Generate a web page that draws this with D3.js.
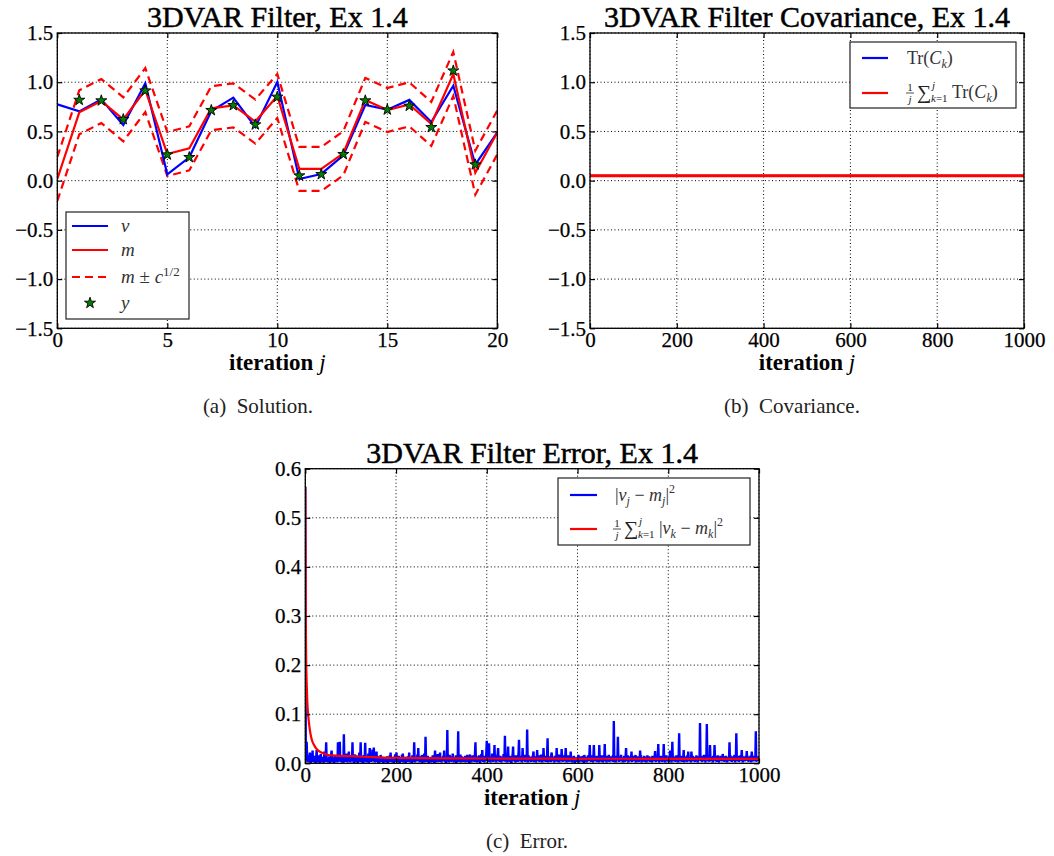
<!DOCTYPE html>
<html><head><meta charset="utf-8">
<script src="https://cdn.jsdelivr.net/npm/d3@7"></script>
<style>
body{margin:0;background:#fff}
text{font-family:"Liberation Serif","Times New Roman",serif}
</style>
</head><body>
<svg id="c" width="1054" height="856"></svg>
<script>
// ---------------- DATA ----------------
// (a) Solution
const solIter = [0,1,2,3,4,5,6,7,8,9,10,11,12,13,14,15,16,17,18,19,20];
const truthV  = [0.775,0.704,0.826,0.566,0.989,0.064,0.237,0.708,0.843,0.545,1.002,0.017,0.068,0.257,0.769,0.721,0.820,0.596,0.965,0.163,0.491];
const meanM   = [0.017,0.694,0.809,0.623,0.921,0.271,0.328,0.735,0.765,0.600,0.860,0.119,0.119,0.278,0.820,0.718,0.775,0.576,1.084,0.081,0.490];
const varC    = [0.05,0.05,0.05,0.05,0.05,0.05,0.05,0.05,0.05,0.05,0.05,0.05,0.05,0.05,0.05,0.05,0.05,0.05,0.05,0.05,0.05];
const obsIter = [1,2,3,4,5,6,7,8,9,10,11,12,13,14,15,16,17,18,19];
const obsY    = [0.819,0.813,0.623,0.914,0.264,0.237,0.715,0.765,0.569,0.850,0.051,0.064,0.268,0.813,0.721,0.759,0.542,1.117,0.163];
// (b) Covariance
const covIter  = [0,1000];
const covTrace = [0.05,0.05];
const covAvg   = [0.05,0.05];
// (c) Error, |v_j - m_j|^2 in units of 1e-3, j = 0..999
const errSqMilli = [
563,6,14,44,9,3,17,2,11,5,22,7,1,13,4,9,26,3,12,6,2,15,8,1,10,
27,4,9,2,16,6,11,1,7,19,3,8,13,2,5,10,1,24,6,3,12,43,8,4,7,
2,11,5,14,1,9,3,18,26,6,2,12,4,8,1,15,7,3,10,5,13,2,43,9,4,
6,44,3,12,8,2,17,5,11,1,59,7,14,3,9,4,20,6,2,11,8,24,5,13,2,
9,4,16,7,43,3,10,1,12,6,18,2,8,14,4,7,1,11,5,22,3,9,43,6,2,
13,5,8,1,17,4,11,42,7,3,15,2,9,6,20,1,12,31,5,8,3,14,6,28,4,
10,32,7,2,12,5,9,24,3,15,6,1,11,4,8,2,17,7,3,10,5,13,1,8,6,
3,12,7,2,9,14,5,1,11,6,3,16,8,22,4,10,2,7,13,5,1,9,6,18,3,
8,22,4,11,2,7,15,5,1,12,6,9,3,17,8,20,2,10,4,6,13,1,8,5,11,
3,14,6,9,22,2,7,12,4,10,1,16,5,8,3,43,9,2,13,6,11,4,18,7,31,
5,10,2,14,6,9,3,17,1,8,12,4,20,7,2,54,11,5,9,3,15,6,1,12,8,
4,10,2,13,7,5,16,3,9,1,11,26,6,8,2,14,4,19,7,10,3,12,22,5,8,
2,11,6,9,15,4,26,8,3,12,1,10,7,68,5,13,2,9,17,4,8,11,3,14,6,
20,5,9,2,12,7,4,16,1,10,6,13,65,3,8,11,5,18,2,9,14,4,7,12,3,
10,6,15,2,8,12,4,17,7,3,11,1,9,18,5,13,2,10,6,16,4,8,12,3,20,
43,7,11,2,14,5,9,3,16,8,1,12,6,19,4,27,10,3,13,7,2,15,9,5,22,
46,8,12,3,17,41,6,10,2,14,5,9,20,7,3,13,8,37,4,11,16,2,9,6,18,
31,5,12,3,9,15,7,2,13,6,10,4,19,8,11,56,3,14,6,9,2,17,34,5,12,
7,3,15,9,1,12,6,18,34,4,10,8,13,2,16,5,11,7,3,14,20,48,9,4,12,
6,15,2,10,31,7,13,4,9,17,3,11,5,8,69,12,2,16,6,10,4,13,8,3,14,
9,5,17,24,3,11,7,14,2,10,6,27,8,12,4,16,3,9,13,5,18,7,2,11,6,
31,10,4,15,8,3,12,6,17,51,2,9,14,5,11,7,3,16,22,8,4,13,6,10,2,
15,7,11,4,31,9,3,13,6,18,2,10,8,14,5,29,12,3,9,16,6,11,4,13,31,
7,2,12,9,16,5,10,3,14,8,24,6,11,2,13,4,9,15,7,1,10,6,12,3,8,
5,13,17,8,2,11,6,14,4,9,12,3,15,7,1,17,10,5,13,8,2,11,6,16,4,
9,12,37,5,14,3,10,7,16,2,11,37,8,13,4,9,6,15,3,12,7,10,2,37,8,
14,5,11,3,16,8,2,12,6,10,39,4,13,9,2,15,7,11,5,17,3,10,6,14,8,
4,12,7,16,3,86,10,5,13,2,9,15,6,11,54,8,3,14,7,10,4,17,5,12,9,
2,11,6,15,8,3,13,31,5,10,7,16,2,12,9,4,14,6,11,24,3,10,8,15,5,
12,4,9,17,2,11,7,14,5,10,3,13,8,26,6,16,2,9,12,4,11,7,15,3,10,
6,13,2,9,16,5,11,4,14,8,3,12,7,10,2,15,6,11,9,4,13,25,8,3,12,
5,10,16,39,7,2,13,9,4,15,6,11,3,12,8,39,5,14,2,10,7,16,4,11,6,
9,3,14,8,26,5,12,2,10,44,7,15,4,11,6,13,3,9,16,5,12,8,2,14,61,
7,11,4,15,9,3,12,6,10,27,2,14,8,5,13,10,3,16,6,24,11,4,9,13,7,
2,24,12,6,15,4,10,8,13,3,11,7,16,5,9,2,14,10,6,12,82,4,11,8,15,
3,13,6,10,17,5,9,2,14,11,80,7,12,4,16,8,3,37,10,6,13,5,11,2,15,
9,7,37,12,4,14,8,3,11,16,6,10,2,13,7,15,5,9,12,4,19,11,6,14,3,
10,8,15,5,12,2,9,13,6,11,43,4,16,7,10,3,14,8,12,5,9,17,2,11,6,
61,13,4,10,15,7,3,12,9,16,5,11,27,8,2,14,6,10,13,4,9,15,7,25,11,
5,12,3,14,8,10,6,16,2,24,11,7,13,4,9,15,6,10,65,3,12,8,14,5,9
];
const errAvgIter = [0,1,2,3,4,5,7,10,14,20,25,30,40,50,60,76,100,150,200,300,400,500,600,700,800,900,1000];
const errAvgVal  = [0.563,0.30,0.205,0.165,0.135,0.115,0.092,0.068,0.049,0.036,0.029,0.025,0.020,0.017,0.016,0.015,0.0145,0.0125,0.011,0.0102,0.0098,0.0095,0.0092,0.0093,0.0090,0.0091,0.0090];

const ticksA_x = [0,5,10,15,20];
const ticksAB_y = [-1.5,-1.0,-0.5,0.0,0.5,1.0,1.5];
const ticksBC_x = [0,200,400,600,800,1000];
const ticksC_y = [0.0,0.1,0.2,0.3,0.4,0.5,0.6];

// ---------------- DRAWING ----------------
const svg = d3.select("#c");
const BLUE = "#0000ff", RED = "#ff0000";
let clipId = 0;

function panel(p) {
  const g = svg.append("g");
  const x = d3.scaleLinear().domain(p.xDomain).range([p.left, p.right]);
  const y = d3.scaleLinear().domain(p.yDomain).range([p.bottom, p.top]);
  // grid
  g.append("g").selectAll("line").data(p.xTicks).join("line")
    .attr("x1", d => x(d)).attr("x2", d => x(d)).attr("y1", p.top).attr("y2", p.bottom)
    .attr("stroke", "#000").attr("stroke-width", 1).attr("stroke-dasharray", "1,2.5");
  g.append("g").selectAll("line").data(p.yTicks).join("line")
    .attr("y1", d => y(d)).attr("y2", d => y(d)).attr("x1", p.left).attr("x2", p.right)
    .attr("stroke", "#000").attr("stroke-width", 1).attr("stroke-dasharray", "1,2.5");
  // clip
  const id = "clip" + (clipId++);
  svg.append("clipPath").attr("id", id).append("rect")
    .attr("x", p.left).attr("y", p.top).attr("width", p.right - p.left).attr("height", p.bottom - p.top);
  const dg = g.append("g").attr("clip-path", `url(#${id})`);
  p.draw(dg, x, y);
  // frame
  g.append("rect").attr("x", p.left).attr("y", p.top).attr("width", p.right - p.left).attr("height", p.bottom - p.top)
    .attr("fill", "none").attr("stroke", "#000").attr("stroke-width", 1.3);
  // axes (inward ticks on all sides)
  const style = a => {
    a.select(".domain").remove();
    a.attr("font-family", null).attr("font-size", null);
    a.selectAll("line").attr("stroke", "#000").attr("stroke-width", 1.2);
    a.selectAll("text").attr("fill", "#000").style("font-size", "21px")
      .attr("stroke", "#000").attr("stroke-width", 0.25);
  };
  g.append("g").attr("transform", `translate(0,${p.bottom})`)
    .call(d3.axisBottom(x).tickValues(p.xTicks).tickSize(-5).tickPadding(4).tickFormat(p.xFmt)).call(style);
  g.append("g").attr("transform", `translate(0,${p.top})`)
    .call(d3.axisTop(x).tickValues(p.xTicks).tickSize(-5).tickFormat("")).call(style);
  g.append("g").attr("transform", `translate(${p.left},0)`)
    .call(d3.axisLeft(y).tickValues(p.yTicks).tickSize(-5).tickPadding(4).tickFormat(p.yFmt)).call(style);
  g.append("g").attr("transform", `translate(${p.right},0)`)
    .call(d3.axisRight(y).tickValues(p.yTicks).tickSize(-5).tickFormat("")).call(style);
  // title
  const cx = (p.left + p.right) / 2;
  g.append("text").attr("x", cx).attr("y", p.top - 6).attr("text-anchor", "middle")
    .style("font-size", "30px").attr("fill", "#000").attr("stroke", "#000").attr("stroke-width", 0.5).text(p.title);
  // x label
  const xl = g.append("text").attr("x", cx).attr("y", p.bottom + 42).attr("text-anchor", "middle")
    .style("font-size", "23px").attr("fill", "#000");
  xl.append("tspan").attr("font-weight", "bold").text("iteration ");
  xl.append("tspan").attr("font-style", "italic").text("j");
  // caption
  g.append("text").attr("x", p.capX).attr("y", p.capY).attr("text-anchor", "middle")
    .style("font-size", "21px").attr("fill", "#222").style("white-space", "pre").text(p.caption);
  return g;
}

function legendBox(g, b) {
  g.append("rect").attr("x", b.x).attr("y", b.y).attr("width", b.w).attr("height", b.h)
    .attr("fill", "#fff").attr("stroke", "#222").attr("stroke-width", 1.2);
}
function legLine(g, x1, x2, yy, color, dash) {
  g.append("line").attr("x1", x1).attr("x2", x2).attr("y1", yy).attr("y2", yy)
    .attr("stroke", color).attr("stroke-width", 2.2).attr("stroke-dasharray", dash || null);
}
// fraction 1/j followed by sum with limits; returns x after
function fracSum(g, x, yb) {
  g.append("text").attr("x", x + 4).attr("y", yb - 7).attr("text-anchor", "middle").style("font-size", "11px").attr("fill", "#222").text("1");
  g.append("line").attr("x1", x).attr("x2", x + 8).attr("y1", yb - 5).attr("y2", yb - 5).attr("stroke", "#222").attr("stroke-width", 0.8);
  g.append("text").attr("x", x + 4).attr("y", yb + 5).attr("text-anchor", "middle").style("font-size", "11px").attr("font-style", "italic").attr("fill", "#222").text("j");
  g.append("text").attr("x", x + 11).attr("y", yb + 1).style("font-size", "20px").attr("fill", "#222").text("∑");
  g.append("text").attr("x", x + 26).attr("y", yb - 9).style("font-size", "11px").attr("font-style", "italic").attr("fill", "#222").text("j");
  const s = g.append("text").attr("x", x + 25).attr("y", yb + 4).style("font-size", "11px").attr("fill", "#222");
  s.append("tspan").attr("font-style", "italic").text("k");
  s.append("tspan").text("=1");
  return x + 46;
}

// ---- (a) Solution ----
const starSym = d3.symbol(d3.symbolStar, 38);
panel({
  left: 57.3, right: 497.3, top: 33, bottom: 328.3,
  xDomain: [0, 20], yDomain: [-1.5, 1.5], xTicks: ticksA_x, yTicks: ticksAB_y,
  xFmt: d3.format("d"), yFmt: d3.format(".1f"),
  title: "3DVAR Filter, Ex 1.4", caption: "(a)  Solution.", capX: 258, capY: 413,
  draw: (g, x, y) => {
    const rows = solIter.map((j, i) => ({ j, v: truthV[i], m: meanM[i], c: varC[i] }));
    const ln = acc => d3.line().x(d => x(d.j)).y(d => y(acc(d)));
    g.append("path").datum(rows).attr("d", ln(d => d.m + Math.sqrt(d.c))).attr("fill", "none").attr("stroke", RED).attr("stroke-width", 2.2).attr("stroke-dasharray", "8,5");
    g.append("path").datum(rows).attr("d", ln(d => d.m - Math.sqrt(d.c))).attr("fill", "none").attr("stroke", RED).attr("stroke-width", 2.2).attr("stroke-dasharray", "8,5");
    g.append("path").datum(rows).attr("d", ln(d => d.v)).attr("fill", "none").attr("stroke", BLUE).attr("stroke-width", 2.2);
    g.append("path").datum(rows).attr("d", ln(d => d.m)).attr("fill", "none").attr("stroke", RED).attr("stroke-width", 2.2);
    g.selectAll(".st").data(obsIter.map((j, i) => ({ j, y: obsY[i] }))).join("path")
      .attr("transform", d => `translate(${x(d.j)},${y(d.y)})`).attr("d", starSym)
      .attr("fill", "#008000").attr("stroke", "#000").attr("stroke-width", 0.9);
  }
});
{
  const g = svg.append("g");
  legendBox(g, { x: 66, y: 212, w: 123, h: 107 });
  legLine(g, 72, 108, 226, BLUE);
  legLine(g, 72, 108, 250, RED);
  legLine(g, 72, 108, 277, RED, "8,5");
  g.append("path").attr("transform", "translate(90,303)").attr("d", starSym())
    .attr("fill", "#008000").attr("stroke", "#000").attr("stroke-width", 0.9);
  const t = (yy) => g.append("text").attr("x", 121).attr("y", yy + 6).style("font-size", "19px").attr("fill", "#333");
  t(226).append("tspan").attr("font-style", "italic").text("v");
  t(250).append("tspan").attr("font-style", "italic").text("m");
  const t3 = t(277);
  t3.append("tspan").attr("font-style", "italic").text("m");
  t3.append("tspan").text(" ± ");
  t3.append("tspan").attr("font-style", "italic").text("c");
  t3.append("tspan").attr("dy", -7).style("font-size", "13px").text("1/2");
  t(303).append("tspan").attr("font-style", "italic").text("y");
}

// ---- (b) Covariance ----
panel({
  left: 590, right: 1024, top: 33, bottom: 328.3,
  xDomain: [0, 1000], yDomain: [-1.5, 1.5], xTicks: ticksBC_x, yTicks: ticksAB_y,
  xFmt: d3.format("d"), yFmt: d3.format(".1f"),
  title: "3DVAR Filter Covariance, Ex 1.4", caption: "(b)  Covariance.", capX: 792, capY: 413,
  draw: (g, x, y) => {
    const rows = covIter.map((j, i) => ({ j, t: covTrace[i], a: covAvg[i] }));
    g.append("path").datum(rows).attr("d", d3.line().x(d => x(d.j)).y(d => y(d.t))).attr("fill", "none").attr("stroke", BLUE).attr("stroke-width", 1.8);
    g.append("path").datum(rows).attr("d", d3.line().x(d => x(d.j)).y(d => y(d.a))).attr("fill", "none").attr("stroke", RED).attr("stroke-width", 2.8);
  }
});
{
  const g = svg.append("g");
  legendBox(g, { x: 850, y: 42, w: 166, h: 66 });
  legLine(g, 862, 888, 58, BLUE);
  legLine(g, 862, 888, 93, RED);
  const tr = (t) => { t.append("tspan").text("Tr("); t.append("tspan").attr("font-style", "italic").text("C");
    t.append("tspan").attr("dy", 4).attr("font-style", "italic").style("font-size", "12px").text("k");
    t.append("tspan").attr("dy", -4).text(")"); };
  tr(g.append("text").attr("x", 907).attr("y", 64).style("font-size", "18px").attr("fill", "#333"));
  const xx = fracSum(g, 906, 98);
  tr(g.append("text").attr("x", xx).attr("y", 98).style("font-size", "18px").attr("fill", "#333"));
}

// ---- (c) Error ----
panel({
  left: 305.3, right: 759, top: 468.7, bottom: 763.3,
  xDomain: [0, 1000], yDomain: [0, 0.6], xTicks: ticksBC_x, yTicks: ticksC_y,
  xFmt: d3.format("d"), yFmt: d3.format(".1f"),
  title: "3DVAR Filter Error, Ex 1.4", caption: "(c)  Error.", capX: 527, capY: 848,
  draw: (g, x, y) => {
    g.append("path").datum(errSqMilli).attr("d", d3.line().x((d, i) => x(i)).y(d => y(d / 1000)))
      .attr("fill", "none").attr("stroke", BLUE).attr("stroke-width", 2.4).attr("stroke-linejoin", "bevel");
    const rows = errAvgIter.map((j, i) => ({ j, v: errAvgVal[i] }));
    g.append("path").datum(rows).attr("d", d3.line().curve(d3.curveMonotoneX).x(d => x(d.j)).y(d => y(d.v)))
      .attr("fill", "none").attr("stroke", RED).attr("stroke-width", 2.2);
  }
});
{
  const g = svg.append("g");
  legendBox(g, { x: 558, y: 478, w: 192, h: 67 });
  legLine(g, 570, 597, 495, BLUE);
  legLine(g, 570, 597, 529, RED);
  const norm = (t, sub) => {
    t.append("tspan").text("|");
    t.append("tspan").attr("font-style", "italic").text("v");
    t.append("tspan").attr("dy", 4).attr("font-style", "italic").style("font-size", "12px").text(sub);
    t.append("tspan").attr("dy", -4).text(" − ");
    t.append("tspan").attr("font-style", "italic").text("m");
    t.append("tspan").attr("dy", 4).attr("font-style", "italic").style("font-size", "12px").text(sub);
    t.append("tspan").attr("dy", -4).text("|");
    t.append("tspan").attr("dy", -8).style("font-size", "12px").text("2");
  };
  norm(g.append("text").attr("x", 615).attr("y", 501).style("font-size", "18px").attr("fill", "#333"), "j");
  const xx = fracSum(g, 613, 534);
  norm(g.append("text").attr("x", xx).attr("y", 534).style("font-size", "18px").attr("fill", "#333"), "k");
}
</script>
</body></html>
